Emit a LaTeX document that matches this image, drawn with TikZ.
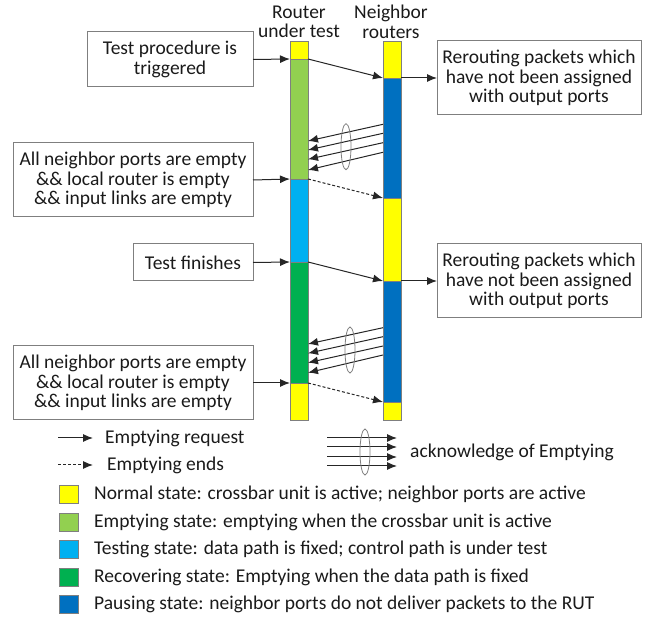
\documentclass[tikz,border=0pt]{standalone}
\usepackage{fontspec}
\setmainfont{Carlito}
\usetikzlibrary{arrows.meta,shapes.geometric}
\definecolor{cyel}{HTML}{FFFF00}
\definecolor{clg}{HTML}{92D050}
\definecolor{clb}{HTML}{00B0F0}
\definecolor{cdg}{HTML}{00B050}
\definecolor{cdb}{HTML}{0070C0}
\definecolor{cbord}{HTML}{7F7F7F}
\definecolor{ctext}{HTML}{1A1A1A}
\tikzset{
  seg/.style={draw=cbord, line width=0.8pt, minimum width=18pt, inner sep=0pt, outer sep=0pt},
  box/.style={draw=cbord, line width=1pt, align=center, inner sep=0pt, outer sep=0pt, text=ctext},
  req/.style={line width=1pt, draw=black!85, -{Latex[length=10pt,width=8pt]}},
  ends/.style={req, dash pattern=on 3pt off 2pt},
  ack/.style={draw=cbord, line width=0.8pt, ellipse, minimum width=10pt, minimum height=46pt, inner sep=0pt},
  lbl/.style={inner sep=0pt, anchor=west, text=ctext},
  lsq/.style={draw=cbord, line width=0.8pt, minimum width=19pt, minimum height=18pt, inner sep=0pt},
}
\begin{document}
\begin{tikzpicture}[x=1pt, y=-1pt, font=\fontsize{19.5}{19.5}\selectfont]
\useasboundingbox (0,0) rectangle (657,617);
% column titles
\node[align=center, text=ctext, inner sep=0pt] (t1) at (299,22) {Router\\under test};
\node[align=center, text=ctext, inner sep=0pt] (t2) at (391,22) {Neighbor\\routers};
% RUT bar
\node[seg, fill=cyel, minimum height=18pt] (r1) at (299,50) {};
\node[seg, fill=clg, minimum height=120pt] (r2) at (299,119) {};
\node[seg, fill=clb, minimum height=83pt] (r3) at (299,220.5) {};
\node[seg, fill=cdg, minimum height=121pt] (r4) at (299,322.5) {};
\node[seg, fill=cyel, minimum height=37pt] (r5) at (299,401.5) {};
% Neighbor bar
\node[seg, fill=cyel, minimum height=37pt] (n1) at (392,59.5) {};
\node[seg, fill=cdb, minimum height=120pt] (n2) at (392,138) {};
\node[seg, fill=cyel, minimum height=83pt] (n3) at (392,239.5) {};
\node[seg, fill=cdb, minimum height=121pt] (n4) at (392,341.5) {};
\node[seg, fill=cyel, minimum height=18pt] (n5) at (392,411) {};
% left boxes
\node[box, minimum width=166pt, minimum height=55pt] (tp) at (170,59.5) {Test procedure is\\triggered};
\node[box, minimum width=240pt, minimum height=74pt] (b1) at (133,180) {All neighbor ports are empty\\\&\& local router is empty\\\&\& input links are empty};
\node[box, minimum width=120pt, minimum height=37pt] (tf) at (193,262.5) {Test finishes};
\node[box, minimum width=240pt, minimum height=74pt] (b2) at (133,383) {All neighbor ports are empty\\\&\& local router is empty\\\&\& input links are empty};
% right boxes
\node[box, minimum width=204pt, minimum height=74pt] (rb1) at (539,78) {Rerouting packets which\\have not been assigned\\with output ports};
\node[box, minimum width=204pt, minimum height=74pt] (rb2) at (539,281) {Rerouting packets which\\have not been assigned\\with output ports};
% trigger arrows
\draw[req] (tp.east) -- (r2.north west);
\draw[req] (b1.east) -- (r3.north west);
\draw[req] (tf.east) -- (r4.north west);
\draw[req] (b2.east) -- (r5.north west);
% RUT to neighbors
\draw[req] (r2.north east) -- (n2.north west);
\draw[ends] (r3.north east) -- (n3.north west);
\draw[req] (r4.north east) -- (n4.north west);
\draw[ends] (r5.north east) -- (n5.north west);
% neighbors to right boxes
\draw[req] (n2.north east) -- (rb1.west);
\draw[req] (n4.north east) -- (rb2.west);
% acknowledgements, first group
\foreach \ys/\ye in {124.3/141, 133.3/150, 142.7/159.3, 152.3/170}{
  \draw[req] (n2.west |- 0,\ys) -- (r2.east |- 0,\ye);
}
\node[ack] (e1) at (346,146.7) {};
% acknowledgements, second group
\foreach \ys/\ye in {327.7/344, 336.7/353.3, 346/362.7, 355/372.7}{
  \draw[req] (n4.west |- 0,\ys) -- (r4.east |- 0,\ye);
}
\node[ack] (e2) at (350,350) {};
% legend arrows
\coordinate (la1) at (58,438);
\coordinate (la2) at (93,438);
\draw[req] (la1) -- (la2);
\node[lbl] (lt1) at (105,438) {Emptying request};
\coordinate (lb1) at (58,465);
\coordinate (lb2) at (93,465);
\draw[ends] (lb1) -- (lb2);
\node[lbl] (lt2) at (107,465) {Emptying ends};
\foreach \y [count=\i] in {438,447,457,466}{
  \coordinate (ka\i) at (327,\y);
  \coordinate (kb\i) at (397,\y);
  \draw[req] (ka\i) -- (kb\i);
}
\node[ack] (e3) at (365,452) {};
\node[lbl] (lt3) at (410,452) {acknowledge of Emptying};
% colour legend
\node[lsq, fill=cyel] (q1) at (68.5,494) {};
\node[lsq, fill=clg] (q2) at (68.5,522) {};
\node[lsq, fill=clb] (q3) at (68.5,549) {};
\node[lsq, fill=cdg] (q4) at (68.5,577) {};
\node[lsq, fill=cdb] (q5) at (68.5,604.5) {};
\node[lbl] (s1) at (94,494) {Normal state: crossbar unit is active; neighbor ports are active};
\node[lbl] (s2) at (94,522) {Emptying state: emptying when the crossbar unit is active};
\node[lbl] (s3) at (94,549) {Testing state: data path is fixed; control path is under test};
\node[lbl] (s4) at (94,577) {Recovering state: Emptying when the data path is fixed};
\node[lbl] (s5) at (94,604.5) {Pausing state: neighbor ports do not deliver packets to the RUT};
\end{tikzpicture}
\end{document}
